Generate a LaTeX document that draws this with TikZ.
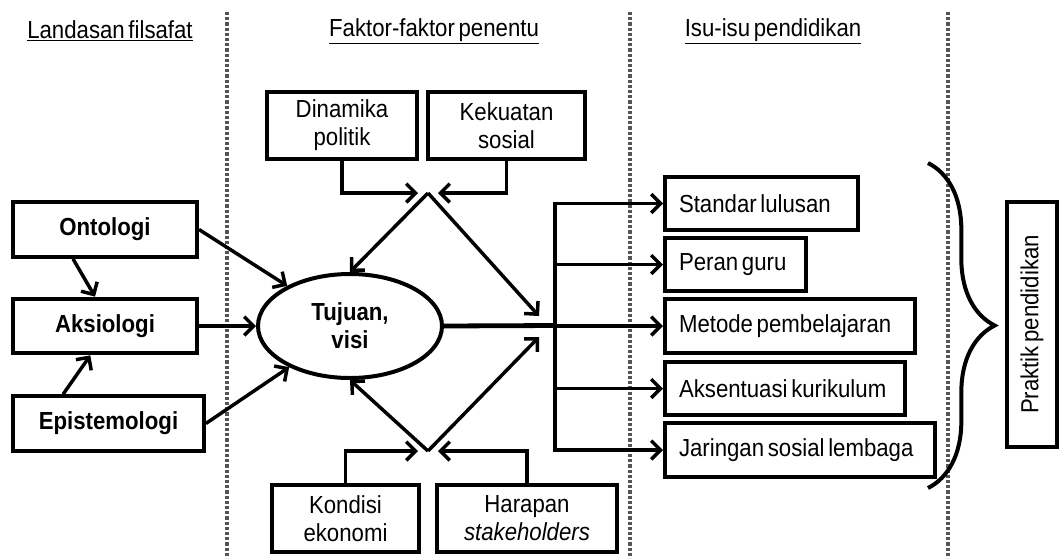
\documentclass[tikz,border=0pt]{standalone}
\usepackage{fontspec}
\setmainfont{Liberation Sans}[FakeStretch=0.9,WordSpace=0.6]
\usetikzlibrary{arrows.meta,positioning,shapes.geometric,decorations.pathreplacing}
\definecolor{dotgray}{HTML}{555555}
\tikzset{
  head/.style={font=\fontsize{18.5}{21}\selectfont,text=black},
  filsafat/.style={draw,line width=3pt,font=\bfseries\fontsize{18.5}{21}\selectfont,minimum height=41pt},
  faktor/.style={draw,line width=3pt,font=\fontsize{18.5}{21}\selectfont,align=center,minimum height=50pt},
  isu/.style={draw,line width=3pt,anchor=west,font=\fontsize{18.5}{21}\selectfont,align=flush left,inner xsep=10.5pt,minimum height=40pt},
  arr/.style={-{Straight Barb[length=7pt,width=14pt]},line width=2.6pt},
  divider/.style={draw=dotgray,line width=2.5pt,dash pattern=on 2.4pt off 1.5pt}
}
\begin{document}
\begin{tikzpicture}[x=0.75pt,y=-0.75pt]
\path[use as bounding box] (0,0) rectangle (1060,558);
% kolom
\foreach \dx in {227,630,948} \draw[divider] (\dx,12) -- (\dx,558);
\node[head] (judul1) at (110,31) {\underline{Landasan filsafat}};
\node[head] (judul2) at (434,31) {\underline{Faktor-faktor penentu}};
\node[head] (judul3) at (773,31) {\underline{Isu-isu pendidikan}};
% landasan
\node[filsafat,minimum width=138pt] (onto) at (105,229.5) {Ontologi};
\node[filsafat,minimum width=138pt] (aksio) at (105,326) {Aksiologi};
\node[filsafat,minimum width=143pt] (episte) at (108.5,423.5) {Epistemologi};
\node[ellipse,draw,line width=3pt,minimum width=138pt,minimum height=78pt,font=\bfseries\fontsize{18.5}{21}\selectfont,align=center] (tujuan) at (350,326) {Tujuan,\\visi};
% faktor
\node[faktor,minimum width=112pt] (dinamika) at (342,125.5) {Dinamika\\politik};
\node[faktor,minimum width=118pt] (kekuatan) at (506.5,125.5) {Kekuatan\\sosial};
\node[faktor,minimum width=110pt] (kondisi) at (345.5,518.5) {Kondisi\\ekonomi};
\node[faktor,minimum width=135pt] (harapan) at (527,518.5) {Harapan\\\textit{stakeholders}};
\coordinate (toppeak) at (428,193);
\coordinate (botpeak) at (428,451);
\coordinate (hub) at (555,325.5);
\coordinate (hubin1) at (539,316);
\coordinate (hubin2) at (539,337);
% isu
\node[isu,text width=124pt] (standar) at (663,203.5) {Standar lulusan};
\node[isu,text width=85pt] (peran) at (663,264.5) {Peran guru};
\node[isu,text width=166.5pt] (metode) at (663,326) {Metode pembelajaran};
\node[isu,text width=159pt] (aksentuasi) at (663,388.5) {Aksentuasi kurikulum};
\node[isu,text width=181.5pt] (jaringan) at (663,450) {Jaringan sosial lembaga};
\draw[line width=3pt,decorate,decoration={brace,amplitude=50pt}] (928,163) -- (928,488);
\node[draw,line width=3pt,rotate=90,minimum width=184pt,minimum height=37pt,font=\fontsize{18.5}{21}\selectfont] (praktik) at (1032,324.5) {Praktik pendidikan};
% panah
\draw[arr] ([xshift=-24pt]onto.south) -- ([xshift=-7.5pt]aksio.north);
\draw[arr] ([xshift=-34pt]episte.north) -- ([xshift=-11pt]aksio.south);
\draw[arr] (onto.east) -- (tujuan);
\draw[arr] (aksio.east) -- (tujuan.west);
\draw[arr] (episte.east) -- (tujuan);
\draw[arr] (dinamika.south) |- ([xshift=-7.5pt]toppeak);
\draw[arr] (kekuatan.south) |- ([xshift=7.5pt]toppeak);
\draw[arr] (toppeak) -- (tujuan.north);
\draw[arr] (toppeak) -- (hubin1);
\draw[arr] (kondisi.north) |- ([xshift=-7.5pt]botpeak);
\draw[arr] (harapan.north) |- ([xshift=7.5pt]botpeak);
\draw[arr] (botpeak) -- (tujuan.south);
\draw[arr] (botpeak) -- (hubin2);
\draw[line width=3.6pt] (tujuan.east) -- (hub);
\draw[line width=2.6pt,line cap=rect] (standar.west -| hub) -- (jaringan.west -| hub);
\foreach \n in {standar,peran,metode,aksentuasi,jaringan} \draw[arr] (\n.west -| hub) -- (\n.west);
\end{tikzpicture}
\end{document}
